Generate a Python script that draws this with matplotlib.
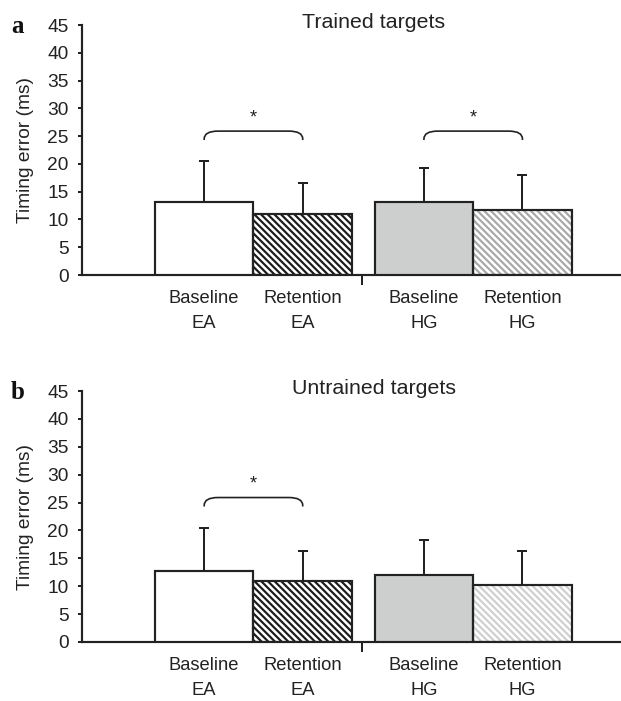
import matplotlib
matplotlib.use("Agg")
import matplotlib.pyplot as plt
from matplotlib.path import Path
from matplotlib.patches import PathPatch

plt.rcParams['font.family'] = ['Liberation Sans', 'DejaVu Sans']
plt.rcParams['hatch.linewidth'] = 1.3

# data
groups = ["Baseline\nEA", "Retention\nEA", "Baseline\nHG", "Retention\nHG"]
trained_mean = [13.2, 10.9, 13.2, 11.7]
trained_err = [7.4, 5.6, 6.0, 6.3]
untrained_mean = [12.7, 10.9, 12.1, 10.3]
untrained_err = [7.7, 5.5, 6.2, 6.1]
trained_sig = [(0, 1), (2, 3)]
untrained_sig = [(0, 1)]

xpos = [0, 1, 2.23, 3.23]
ink = "#222222"
fills = ["white", "white", "#cdcfce", "white"]


def panel(ax, means, errs, sig, title, letter, hg_hatch):
    hatches = [None, "\\" * 6, None, "\\" * 6]
    hcolors = [None, "#1a1a1a", None, hg_hatch]
    for i in range(4):
        if hatches[i]:
            ax.bar(xpos[i], means[i], width=1.0, color="white",
                   edgecolor=hcolors[i], hatch=hatches[i], linewidth=0, zorder=2)
            ax.bar(xpos[i], means[i], width=1.0, color="none",
                   edgecolor=ink, linewidth=1.3, zorder=3)
        else:
            ax.bar(xpos[i], means[i], width=1.0, color=fills[i],
                   edgecolor=ink, linewidth=1.3, zorder=3)
    ax.errorbar(xpos, means, yerr=[[0] * 4, errs], fmt="none", ecolor=ink,
                elinewidth=1.2, capsize=2.8, capthick=1.2, zorder=1)

    for a, b in sig:
        x0, x1 = xpos[a], xpos[b]
        yb, yt = 24.3, 25.9
        rx, ry = 0.14, 1.4
        verts = [(x0, yb), (x0, yt - ry), (x0, yt), (x0 + rx, yt),
                 (x1 - rx, yt), (x1, yt), (x1, yt - ry), (x1, yb)]
        codes = [Path.MOVETO, Path.LINETO, Path.CURVE3, Path.CURVE3,
                 Path.LINETO, Path.CURVE3, Path.CURVE3, Path.LINETO]
        ax.add_patch(PathPatch(Path(verts, codes), fill=False, edgecolor=ink,
                               linewidth=1.0))
        ax.text((x0 + x1) / 2, 28.3, "*", ha="center", va="center",
                fontsize=11, color=ink)

    ax.set_xlim(-1.24, 4.23)
    ax.set_ylim(0, 45)
    ax.set_yticks(range(0, 50, 5))
    ax.set_xticks(xpos)
    ax.set_xticklabels(groups, fontsize=11, linespacing=1.65, color=ink)
    ax.tick_params(axis="x", length=0, pad=9)
    ax.set_xticks([1.6], minor=True)
    ax.tick_params(axis="x", which="minor", length=6, width=1.2, color=ink,
                   direction="out")
    ax.tick_params(axis="y", length=2.4, width=1.2, color=ink, pad=5.5,
                   labelsize=11.5, labelcolor=ink)
    for s in ["top", "right"]:
        ax.spines[s].set_visible(False)
    for s in ["left", "bottom"]:
        ax.spines[s].set_linewidth(1.3)
        ax.spines[s].set_color(ink)
    ax.set_ylabel("Timing error (ms)", fontsize=11.5, color=ink, labelpad=8)
    ax.text(1.72, 45.4, title, ha="center", va="center", fontsize=12.8,
            color=ink)
    ax.text(-0.12, 0.995, letter, transform=ax.transAxes, ha="center",
            va="center", fontsize=15, fontweight="bold",
            family="Liberation Serif", color="#111111")


W, H = 621, 701
fig = plt.figure(figsize=(W / 120, H / 120), dpi=120)
ax1 = fig.add_axes([82 / W, 1 - 275 / H, (W - 82) / W, 250 / H])
ax2 = fig.add_axes([82 / W, 1 - 642 / H, (W - 82) / W, 251 / H])

panel(ax1, trained_mean, trained_err, trained_sig, "Trained targets", "a", "#a8a8a8")
panel(ax2, untrained_mean, untrained_err, untrained_sig, "Untrained targets", "b", "#cfcfcf")

fig.savefig("out.png", dpi=120)
